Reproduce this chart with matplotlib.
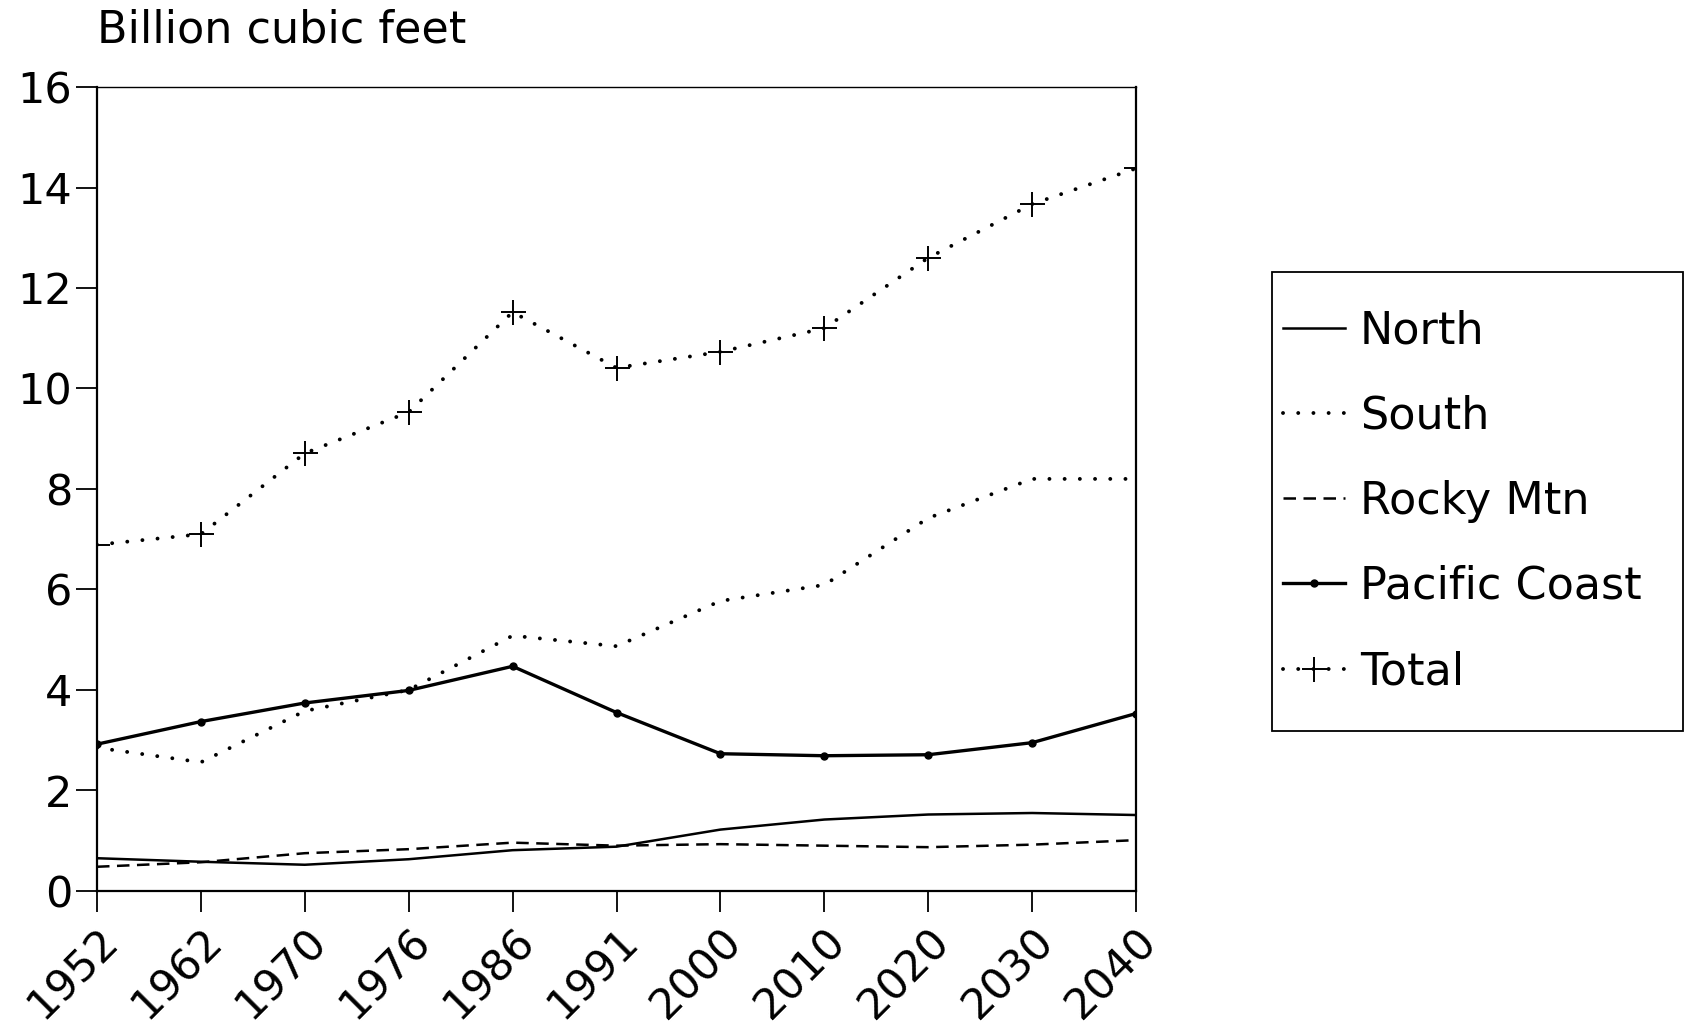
import matplotlib
matplotlib.use("Agg")
import matplotlib.pyplot as plt
from matplotlib.patches import Rectangle
import numpy as np

plt.rcParams['font.family'] = ['DejaVu Sans']

years = ["1952", "1962", "1970", "1976", "1986", "1991",
         "2000", "2010", "2020", "2030", "2040"]
north = [0.65, 0.58, 0.52, 0.63, 0.81, 0.88, 1.22, 1.42, 1.52, 1.55, 1.51]
south = [2.85, 2.56, 3.58, 4.00, 5.08, 4.87, 5.77, 6.09, 7.42, 8.20, 8.20]
rocky = [0.48, 0.57, 0.75, 0.83, 0.96, 0.90, 0.93, 0.90, 0.87, 0.92, 1.01]
pacific = [2.92, 3.37, 3.74, 3.99, 4.47, 3.55, 2.73, 2.69, 2.71, 2.95, 3.53]
total = [6.89, 7.10, 8.71, 9.53, 11.52, 10.41, 10.73, 11.20, 12.60, 13.67, 14.38]
y_ticks = [0, 2, 4, 6, 8, 10, 12, 14, 16]

fig = plt.figure(figsize=(16.9, 10.24), dpi=100)
ax = fig.add_axes([0.0574, 0.130, 0.6148, 0.785])
x = np.arange(len(years))

dot_style = (0, (0.01, 3.9))
ax.plot(x, north, color='black', lw=1.8, label='North')
ax.plot(x, south, color='black', lw=2.8, linestyle=dot_style,
        dash_capstyle='round', label='South')
ax.plot(x, rocky, color='black', lw=1.8, linestyle=(0, (5, 3)), label='Rocky Mtn')
ax.plot(x, pacific, color='black', lw=2.4, marker='o', markersize=5,
        label='Pacific Coast')
ax.plot(x, total, color='black', lw=2.8, linestyle=dot_style,
        dash_capstyle='round', marker='+', markersize=18, markeredgewidth=1.4,
        label='Total')

ax.set_xlim(0, len(years) - 1)
ax.set_ylim(0, 16)
ax.set_xticks(x)
ax.set_xticklabels(years, rotation=45, ha='right', rotation_mode='anchor')
ax.set_yticks(y_ticks)
ax.tick_params(axis='both', direction='out', color='black', width=1.3)
ax.tick_params(axis='x', labelsize=31, length=15, pad=6)
ax.tick_params(axis='y', labelsize=31, length=15, pad=3)
ax.spines['top'].set_linewidth(1.0)
for s in ('left', 'right', 'bottom'):
    ax.spines[s].set_linewidth(1.6)

fig.text(0.0574, 0.971, 'Billion cubic feet', fontsize=32, ha='left', va='center')

# legend frame drawn separately so the padding can be set freely
fig.patches.append(Rectangle((0.7527, 0.2861), 0.2432, 0.4483,
                             transform=fig.transFigure, fill=False,
                             edgecolor='black', linewidth=1.3))
handles, labels = ax.get_legend_handles_labels()
leg = fig.legend(handles, labels, loc='upper left',
                 bbox_to_anchor=(0.759, 0.698), bbox_transform=fig.transFigure,
                 fontsize=32, frameon=False,
                 handlelength=1.4, handletextpad=0.34, labelspacing=0.95,
                 borderpad=0, borderaxespad=0)

fig.savefig('out.png', dpi=100, facecolor='white')
